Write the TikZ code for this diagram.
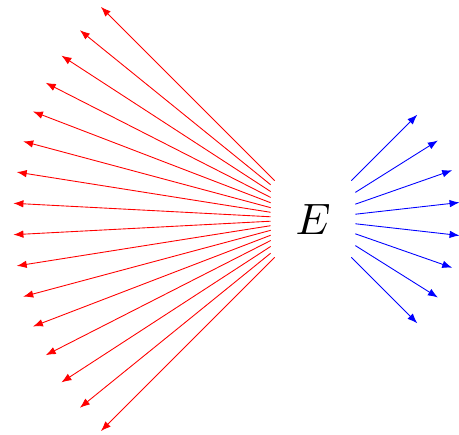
\documentclass[tikz,border=0pt]{standalone}
\usepackage{graphicx}
\usepackage{tikz}
\usetikzlibrary{arrows.meta}
\tikzset{
  enode/.style={rectangle,minimum width=16.8mm,minimum height=15.2mm,inner sep=0pt},
  redray/.style={-{Latex[length=2mm,width=1.5mm]},line width=0.5pt,red},
  blueray/.style={-{Latex[length=2mm,width=1.5mm]},line width=0.5pt,blue},
}
\begin{document}
\begin{tikzpicture}
  \useasboundingbox (-6.26,-4.32) rectangle (2.92,4.38);
  \node[enode] (e) {\scalebox{2.5}{$E$}};
  % rays to the left
  \foreach \k in {0,...,15}{
    \coordinate (r\k) at ({135+6*\k}:6);
    \draw[redray] (e) -- (r\k);
  }
  % rays to the right
  \foreach \k in {0,...,7}{
    \coordinate (b\k) at ({-45+90/7*\k}:2.95);
    \draw[blueray] (e) -- (b\k);
  }
\end{tikzpicture}
\end{document}
